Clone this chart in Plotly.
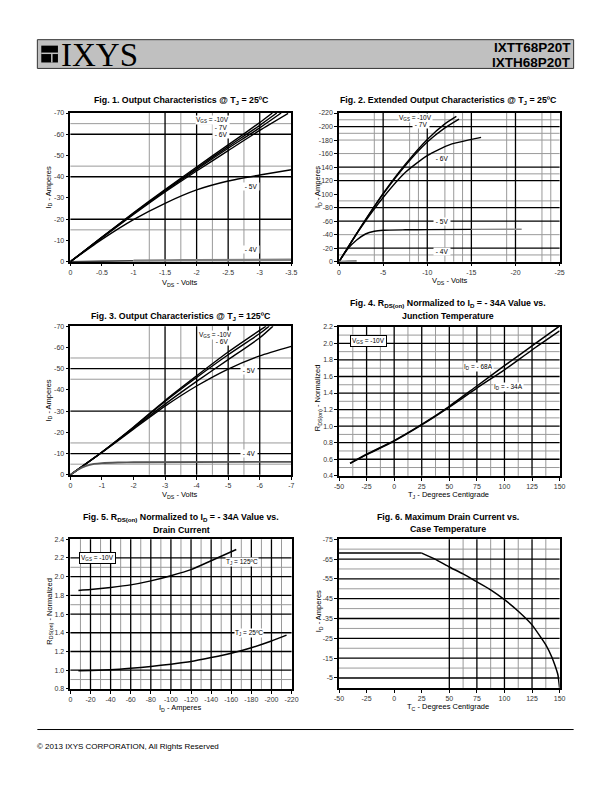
import plotly.graph_objects as go

W, H = 612, 792

# ---------------- data ----------------
# Fig 1  (T_J = 25C)
f1_v10 = [0, -0.5, -1, -1.5, -2, -2.5, -3, -3.2]
f1_i10 = [0, -11.6, -23, -34, -44.6, -55, -65.5, -70]
f1_v8 = [0, -0.5, -1, -1.5, -2, -2.5, -3, -3.27]
f1_i8 = [0, -11.5, -22.8, -33.6, -44, -54.2, -64.2, -70]
f1_v7 = [0, -0.5, -1, -1.5, -2, -2.5, -3, -3.34]
f1_i7 = [0, -11.4, -22.6, -33.3, -43.5, -53.4, -63, -70]
f1_v6 = [0, -0.5, -1, -1.5, -2, -2.5, -3, -3.45]
f1_i6 = [0, -11.2, -22.2, -32.8, -42.7, -52.3, -61.8, -69.8]
f1_v5 = [0, -0.5, -1, -1.5, -2, -2.5, -3, -3.5]
f1_i5 = [0, -10.5, -19.8, -27.5, -33.8, -38, -40.8, -43.3]
f1_v4a = [0, -0.5, -1]
f1_i4a = [0, -0.2, -0.4]
f1_v4b = [-1, -1.5, -2, -3.5]
f1_i4b = [-0.4, -0.6, -0.7, -0.9]

# Fig 2  (extended, T_J = 25C)
f2_v10 = [0, -1, -2.5, -5, -7.5, -10, -12, -13.3]
f2_i10 = [0, -21, -52, -101, -144, -181, -204, -215]
f2_v7 = [0, -1, -2.5, -5, -7.5, -10, -12, -13.6]
f2_i7 = [0, -21, -52, -100, -142, -177, -198, -211]
f2_v6 = [0, -1, -2.5, -5, -7.5, -10, -12.5, -15, -16.1]
f2_i6 = [0, -21, -51, -95, -132, -157, -173, -181, -184]
f2_v5 = [0, -1, -2, -3, -4, -5, -7.5, -10, -15]
f2_i5 = [0, -19, -32, -41, -45, -46.5, -47.2, -47.5, -47.8]
f2_v5b = [-15, -20.7]
f2_i5b = [-47.8, -48]
f2_v4 = [0, -1, -2]
f2_i4 = [0, -0.8, -1]

# Fig 3  (T_J = 125C)
f3_v10 = [0, -1, -2, -3, -4, -5, -6, -6.2]
f3_i10 = [0, -10.7, -22.5, -35, -46.6, -57.8, -68, -70]
f3_v7 = [0, -1, -2, -3, -4, -5, -6, -6.3]
f3_i7 = [0, -10.7, -22.3, -34.5, -45.8, -56.5, -66.5, -70]
f3_v6 = [0, -1, -2, -3, -4, -5, -6, -6.42]
f3_i6 = [0, -10.6, -22, -33.3, -44, -54.2, -64.5, -70]
f3_v5 = [0, -1, -2, -3, -4, -5, -6, -7]
f3_i5 = [0, -10.5, -21.5, -32.3, -41.8, -49.8, -56, -60.5]
f3_v4 = [0, -0.25, -0.5, -0.75, -1, -1.5, -2, -7]
f3_i4 = [0, -2.5, -4.2, -5.1, -5.5, -5.8, -5.9, -6.1]

# Fig 4
f4_tj = [-40, -25, 0, 25, 50, 75, 100, 125, 150]
f4_r68 = [0.55, 0.66, 0.825, 1.02, 1.24, 1.485, 1.73, 1.97, 2.21]
f4_r34 = [0.55, 0.655, 0.82, 1.015, 1.23, 1.46, 1.68, 1.92, 2.15]

# Fig 5
f5_id125 = [-8, -20, -40, -60, -80, -100, -120, -140, -165]
f5_r125 = [1.852, 1.862, 1.884, 1.912, 1.955, 2.01, 2.075, 2.17, 2.29]
f5_id25 = [-8, -20, -40, -60, -80, -100, -120, -140, -160, -180, -200, -215]
f5_r25 = [0.994, 0.997, 1.004, 1.02, 1.04, 1.064, 1.093, 1.135, 1.181, 1.24, 1.312, 1.375]

# Fig 6
f6_tc_flat = [-50, 25]
f6_id_flat = [-68, -68]
f6_tc = [25, 37.5, 50, 62.5, 75, 87.5, 100, 112.5, 125, 137.5, 143, 146, 148.5, 150]
f6_id = [-68, -64.8, -61, -57.5, -53.5, -49.5, -44.5, -38.7, -31.8, -21.7, -15.5, -11, -6.5, 0]

# tick labels
f1_xt = [0, -0.5, -1, -1.5, -2, -2.5, -3, -3.5]
f1_xl = ["0", "-0.5", "-1", "-1.5", "-2", "-2.5", "-3", "-3.5"]
f1_yt = [0, -10, -20, -30, -40, -50, -60, -70]
f1_yl = ["0", "-10", "-20", "-30", "-40", "-50", "-60", "-70"]
f2_xt = [0, -5, -10, -15, -20, -25]
f2_xl = ["0", "-5", "-10", "-15", "-20", "-25"]
f2_yt = [0, -20, -40, -60, -80, -100, -120, -140, -160, -180, -200, -220]
f2_yl = ["0", "-20", "-40", "-60", "-80", "-100", "-120", "-140", "-160", "-180", "-200", "-220"]
f3_xt = [0, -1, -2, -3, -4, -5, -6, -7]
f3_xl = ["0", "-1", "-2", "-3", "-4", "-5", "-6", "-7"]
f4_xt = [-50, -25, 0, 25, 50, 75, 100, 125, 150]
f4_xl = ["-50", "-25", "0", "25", "50", "75", "100", "125", "150"]
f4_yt = [0.4, 0.6, 0.8, 1.0, 1.2, 1.4, 1.6, 1.8, 2.0, 2.2]
f4_yl = ["0.4", "0.6", "0.8", "1.0", "1.2", "1.4", "1.6", "1.8", "2.0", "2.2"]
f5_xt = [0, -20, -40, -60, -80, -100, -120, -140, -160, -180, -200, -220]
f5_xl = ["0", "-20", "-40", "-60", "-80", "-100", "-120", "-140", "-160", "-180", "-200", "-220"]
f5_yt = [0.8, 1.0, 1.2, 1.4, 1.6, 1.8, 2.0, 2.2, 2.4]
f5_yl = ["0.8", "1.0", "1.2", "1.4", "1.6", "1.8", "2.0", "2.2", "2.4"]
f6_yt = [-5, -15, -25, -35, -45, -55, -65, -75]
f6_yl = ["-5", "-15", "-25", "-35", "-45", "-55", "-65", "-75"]

# ---------------- helpers ----------------
def px(x):
    return x / W

def py(y):
    return 1 - y / H

FONT = "Liberation Sans"
NARROW = "Liberation Sans Narrow, Arial Narrow, Liberation Sans"

fig = go.Figure()

# panel geometry (pixels): x0, x1, ytop, ybottom
panels = {
    1: (66.7, 292, 110, 260),
    2: (340.7, 565.7, 110, 260),
    3: (66.7, 292, 325, 475),
    4: (340.7, 565.7, 325.7, 476),
    5: (66.7, 292.3, 540, 691),
    6: (340.7, 565.7, 540, 690),
}
ranges = {
    1: ([0, -3.5], [0, -70], f1_xt, f1_xl, f1_yt, f1_yl),
    2: ([0, -25], [0, -220], f2_xt, f2_xl, f2_yt, f2_yl),
    3: ([0, -7], [0, -70], f3_xt, f3_xl, f1_yt, f1_yl),
    4: ([-50, 150], [0.4, 2.2], f4_xt, f4_xl, f4_yt, f4_yl),
    5: ([0, -220], [0.8, 2.4], f5_xt, f5_xl, f5_yt, f5_yl),
    6: ([-50, 150], [0, -75], f4_xt, f4_xl, f6_yt, f6_yl),
}

layout_axes = {}
for n, (x0, x1, yt, yb) in panels.items():
    xr, yr, xt, xl, ytv, ytl = ranges[n]
    sfx = "" if n == 1 else str(n)
    common = dict(showgrid=False, zeroline=False, showline=True, mirror=True,
                  linecolor="black", linewidth=1.5, ticks="outside", ticklen=3,
                  tickcolor="black", tickwidth=1,
                  tickfont=dict(family=NARROW, size=7, color="#333333"))
    layout_axes["xaxis" + sfx] = dict(common, domain=[px(x0), px(x1)], range=xr,
                                      tickvals=xt, ticktext=xl,
                                      anchor="y" + sfx)
    layout_axes["yaxis" + sfx] = dict(common, domain=[py(yb), py(yt)], range=yr,
                                      tickvals=ytv, ticktext=ytl,
                                      anchor="x" + sfx)

def line(n, x, y, color="black", width=1.4, smoothing=0.6, shape="spline"):
    sfx = "" if n == 1 else str(n)
    ln = dict(color=color, width=width, shape=shape)
    if shape == "spline":
        ln["smoothing"] = smoothing
    fig.add_trace(go.Scatter(x=x, y=y, mode="lines", xaxis="x" + sfx, yaxis="y" + sfx,
                             line=ln, showlegend=False, hoverinfo="skip"))

shapes = []

def grid(n, vb=(), vg=(), hb=(), hg=()):
    sfx = "" if n == 1 else str(n)
    for v in vg:
        shapes.append(dict(type="line", xref="x" + sfx, yref="y" + sfx + " domain", x0=v, x1=v, y0=0, y1=1,
                           line=dict(color="#9a9a9a", width=1), layer="below"))
    for v in hg:
        shapes.append(dict(type="line", yref="y" + sfx, xref="x" + sfx + " domain", y0=v, y1=v, x0=0, x1=1,
                           line=dict(color="#9a9a9a", width=1), layer="below"))
    for v in vb:
        shapes.append(dict(type="line", xref="x" + sfx, yref="y" + sfx + " domain", x0=v, x1=v, y0=0, y1=1,
                           line=dict(color="black", width=1.3), layer="below"))
    for v in hb:
        shapes.append(dict(type="line", yref="y" + sfx, xref="x" + sfx + " domain", y0=v, y1=v, x0=0, x1=1,
                           line=dict(color="black", width=1.3), layer="below"))

grid(1, vb=[-1.5, -2, -2.5, -3], vg=[-1.25, -1.75, -2.25, -2.75],
     hb=[-20, -40, -60], hg=[-15, -45, -65])
grid(2, vb=[-5, -10, -15, -20], vg=[-4, -8, -9, -12, -13, -14, -19, -23, -24],
     hb=[-20, -60, -80, -120, -140, -200], hg=[-10, -40, -90, -130, -160, -180, -190, -210])
grid(3, vb=[-3, -4, -5, -6], vg=[-2.5, -3.5, -4.5, -5.5],
     hb=[-10, -30, -50], hg=[-5, -15, -45, -55])
grid(4, vb=[-25, 0, 25, 50, 75, 100, 125], vg=[-37.5, -12.5, 12.5, 37.5, 62.5, 87.5, 112.5, 137.5],
     hb=[0.6, 0.8, 1.0, 1.2, 1.4, 1.6, 1.8, 2.0], hg=[0.5, 0.7, 0.9, 1.1, 1.3, 1.5, 1.7, 1.9, 2.1])
grid(5, vb=[-20, -40, -60, -80, -100, -120, -140, -160, -180, -200],
     vg=[-10, -30, -50, -70, -90, -110, -130, -150, -170, -190, -210],
     hb=[1.0, 1.2, 1.4, 1.6, 1.8, 2.0, 2.2], hg=[0.9, 1.7, 2.1])
grid(6, vb=[50, 75, 100, 125], vg=[62.5, 87.5, 112.5, 137.5],
     hb=[-5, -15, -25, -35, -45, -55, -65], hg=[-10, -20, -30, -40, -50, -60, -70])

# curves
line(1, f1_v4a, f1_i4a, color="black", width=1.4)
line(1, f1_v4b, f1_i4b, color="#808080", width=2.5)
line(1, f1_v10, f1_i10); line(1, f1_v8, f1_i8); line(1, f1_v7, f1_i7); line(1, f1_v6, f1_i6)
line(1, f1_v5, f1_i5)
line(2, f2_v10, f2_i10); line(2, f2_v7, f2_i7); line(2, f2_v6, f2_i6)
line(2, f2_v5, f2_i5); line(2, f2_v5b, f2_i5b, color="#8a8a8a", width=1.4)
line(2, f2_v4, f2_i4, color="#808080", width=2)
line(3, f3_v10, f3_i10); line(3, f3_v7, f3_i7); line(3, f3_v6, f3_i6); line(3, f3_v5, f3_i5)
line(3, f3_v4, f3_i4, color="#555555", width=1.8)
line(4, f4_tj, f4_r68, width=1.5); line(4, f4_tj, f4_r34, width=1.5)
line(5, f5_id125, f5_r125, width=1.5); line(5, f5_id25, f5_r25, width=1.5)
line(6, f6_tc_flat, f6_id_flat, width=1.5, shape="linear")
line(6, f6_tc, f6_id, width=1.5, smoothing=0.4)

# header
shapes.append(dict(type="rect", xref="paper", yref="paper", x0=px(33), x1=px(580), y0=py(65), y1=py(36),
                   fillcolor="#c0c0c0", line=dict(color="#333333", width=1)))
shapes.append(dict(type="rect", xref="paper", yref="paper", x0=px(37), x1=px(54), y0=py(59), y1=py(42),
                   fillcolor="black", line=dict(width=0)))
shapes.append(dict(type="rect", xref="paper", yref="paper", x0=px(37), x1=px(54), y0=py(50.5), y1=py(49),
                   fillcolor="#c0c0c0", line=dict(width=0)))
shapes.append(dict(type="rect", xref="paper", yref="paper", x0=px(47), x1=px(48.5), y0=py(59), y1=py(50.5),
                   fillcolor="#c0c0c0", line=dict(width=0)))
# footer line
shapes.append(dict(type="line", xref="paper", yref="paper", x0=px(33), x1=px(580), y0=py(732), y1=py(732),
                   line=dict(color="black", width=1)))

ann = []

def text(x, y, t, size=7, bold=False, family=NARROW, xanchor="center", yanchor="middle",
         bg=None, border=None, angle=0, color="black"):
    if bold:
        t = "<b>" + t + "</b>"
    d = dict(x=px(x), y=py(y), xref="paper", yref="paper", text=t, showarrow=False,
             xanchor=xanchor, yanchor=yanchor, textangle=angle,
             font=dict(family=family, size=size, color=color))
    if bg:
        d["bgcolor"] = bg
        d["borderpad"] = 0
    if border:
        d["bordercolor"] = border
        d["borderwidth"] = 1
        d["borderpad"] = 1
    ann.append(d)

# header text
text(55, 51, "IXYS", size=33, family="Liberation Serif", xanchor="left")
text(579, 44, "IXTT68P20T", size=13.5, bold=True, family=FONT, xanchor="right")
text(579, 59, "IXTH68P20T", size=13.5, bold=True, family=FONT, xanchor="right")
text(31, 749, "© 2013 IXYS CORPORATION, All Rights Reserved", size=8, family=FONT, xanchor="left")

TS = 8.8
# titles
text(180, 97, "Fig. 1. Output Characteristics @ T<sub>J</sub> = 25ºC", size=TS, bold=True)
text(452, 97, "Fig. 2. Extended Output Characteristics @ T<sub>J</sub> = 25ºC", size=TS, bold=True)
text(180, 315, "Fig. 3. Output Characteristics @ T<sub>J</sub> = 125ºC", size=TS, bold=True)
text(452, 302, "Fig. 4. R<sub>DS(on)</sub> Normalized to I<sub>D</sub> = - 34A Value vs.", size=TS, bold=True)
text(452, 315, "Junction Temperature", size=TS, bold=True)
text(180, 518, "Fig. 5. R<sub>DS(on)</sub> Normalized to I<sub>D</sub> = - 34A Value vs.", size=TS, bold=True)
text(180, 531, "Drain Current", size=TS, bold=True)
text(452, 518, "Fig. 6. Maximum Drain Current vs.", size=TS, bold=True)
text(452, 530, "Case Temperature", size=TS, bold=True)

# axis titles
AS = 7.5
text(178, 281, "V<sub>DS</sub> - Volts", size=AS)
text(453, 279, "V<sub>DS</sub> - Volts", size=AS)
text(178, 495, "V<sub>DS</sub> - Volts", size=AS)
text(452, 495, "T<sub>J</sub> - Degrees Centigrade", size=AS)
text(178, 710, "I<sub>D</sub> - Amperes", size=AS)
text(452, 709, "T<sub>C</sub> - Degrees Centigrade", size=AS)
text(45, 185, "I<sub>D</sub> - Amperes", size=AS, angle=-90)
text(320, 185, "I<sub>D</sub> - Amperes", size=AS, angle=-90)
text(45, 400, "I<sub>D</sub> - Amperes", size=AS, angle=-90)
text(320, 397, "R<sub>DS(on)</sub> - Normalized", size=AS, angle=-90)
text(45, 613, "R<sub>DS(on)</sub> - Normalized", size=AS, angle=-90)
text(320, 613, "I<sub>D</sub> - Amperes", size=AS, angle=-90)

# in-plot labels
LS = 6.5
text(194, 117, "V<sub>GS</sub> = -10V", size=LS, xanchor="left", bg="white")
text(211, 125, " - 7V ", size=LS, xanchor="left", bg="white")
text(211, 132, " - 6V ", size=LS, xanchor="left", bg="white")
text(242, 184, " - 5V ", size=LS, xanchor="left", bg="white")
text(242, 248, " - 4V ", size=LS, xanchor="left", bg="white")

text(401, 115.5, "V<sub>GS</sub> = -10V", size=LS, xanchor="left", bg="white")
text(415, 122, " - 7V ", size=LS, xanchor="left", bg="white")
text(437, 156, " - 6V ", size=LS, xanchor="left", bg="white")
text(437, 219, " - 5V ", size=LS, xanchor="left", bg="white")
text(437, 250, " - 4V ", size=LS, xanchor="left", bg="white")

text(197, 334, "V<sub>GS</sub> = -10V", size=LS, xanchor="left", bg="white")
text(212, 341, " - 6V ", size=LS, xanchor="left", bg="white")
text(240, 370, " - 5V ", size=LS, xanchor="left", bg="white")
text(240, 454, " - 4V ", size=LS, xanchor="left", bg="white")

text(352, 340.5, "V<sub>GS</sub> = -10V", size=LS, xanchor="left", bg="white", border="black")
text(467, 366, "I<sub>D</sub> = - 68A", size=LS, xanchor="left", bg="white")
text(498, 386, "I<sub>D</sub> = - 34A", size=LS, xanchor="left", bg="white")

text(75, 559, "V<sub>GS</sub> = -10V", size=LS, xanchor="left", bg="white", border="black")
text(224, 563, "T<sub>J</sub> = 125ºC", size=LS, xanchor="left", bg="white")
text(234, 635, "T<sub>J</sub> = 25ºC", size=LS, xanchor="left", bg="white")

fig.update_layout(width=W, height=H, autosize=False, margin=dict(l=0, r=0, t=0, b=0),
                  paper_bgcolor="white", plot_bgcolor="white", shapes=shapes, annotations=ann,
                  font=dict(family=FONT), **layout_axes)

fig.write_html("out.html", config={"displayModeBar": False},
               post_script="document.body.style.margin='0';")
